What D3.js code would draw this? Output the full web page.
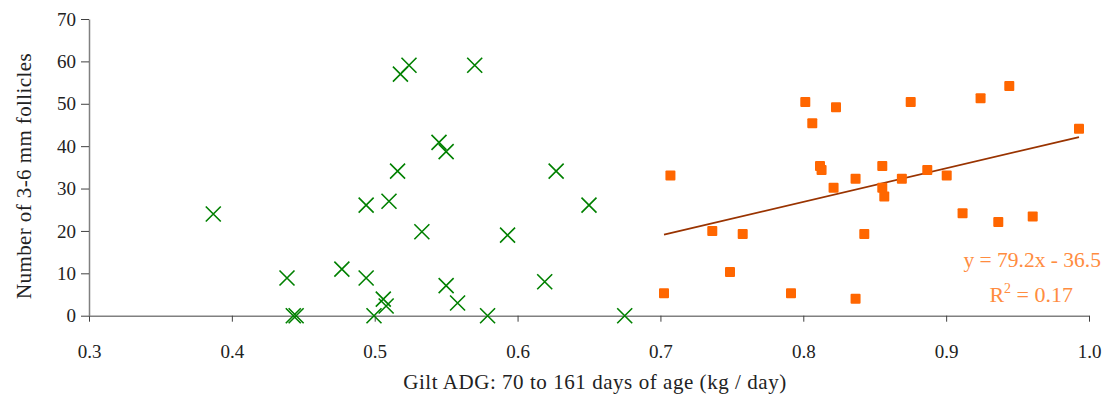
<!DOCTYPE html>
<html><head><meta charset="utf-8">
<script src="https://cdn.jsdelivr.net/npm/d3@7"></script>
<style>body{margin:0;background:#fff;} text{font-family:"Liberation Serif","DejaVu Serif",serif;}</style>
</head><body><svg id="c" width="1111" height="399"></svg>
<script>
// Group 1 (green crosses)
const greenX = [0.387,0.4386,0.443,0.445,0.477,0.494,0.494,0.4995,0.506,0.508,0.510,0.516,0.518,0.524,0.533,0.545,0.550,0.550,0.558,0.570,0.579,0.593,0.619,0.627,0.650,0.675];
const greenY = [24.0,8.9,0,0,11.0,26.1,8.9,0,3.9,2.3,27.0,34.1,57.0,59.1,19.8,40.9,38.7,7.1,3.0,59.1,0,19.0,8.0,34.1,26.1,0];
// Group 2 (orange squares)
const orangeX = [0.7025,0.707,0.7363,0.7487,0.7576,0.7914,0.8014,0.8063,0.8117,0.8128,0.8212,0.8229,0.8366,0.8366,0.8427,0.8553,0.8553,0.8567,0.869,0.8752,0.8868,0.9004,0.9115,0.9241,0.9365,0.9442,0.9606,0.993];
const orangeY = [5.3,33.1,20.0,10.3,19.3,5.3,50.4,45.4,35.3,34.4,30.2,49.2,32.3,4.0,19.3,35.3,30.2,28.1,32.3,50.4,34.4,33.1,24.2,51.3,22.1,54.2,23.4,44.1];
const trendSlope = 79.2, trendIntercept = -36.5;
const xTicks = [0.3,0.4,0.5,0.6,0.7,0.8,0.9,1.0];
const yTicks = [0,10,20,30,40,50,60,70];
const eqLabel = "y = 79.2x - 36.5";
const xTitle = "Gilt ADG: 70 to 161 days of age (kg / day)";
const yTitle = "Number of 3-6 mm follicles";
const FONT = "'Liberation Serif','DejaVu Serif',serif";

const svg = d3.select("#c");
const x = d3.scaleLinear().domain([0.3,1.0]).range([89,1089]);
const y = d3.scaleLinear().domain([0,70]).range([315.7,19]);

const xa = svg.append("g").attr("transform","translate(0,315.7)")
  .call(d3.axisBottom(x).tickValues(xTicks).tickFormat(d3.format(".1f")).tickSize(6).tickSizeOuter(0).tickPadding(23));
const ya = svg.append("g").attr("transform","translate(89,0)")
  .call(d3.axisLeft(y).tickValues(yTicks).tickFormat(d3.format("d")).tickSize(8).tickSizeOuter(0).tickPadding(5));
[xa,ya].forEach(a=>{
  a.attr("font-family",FONT).attr("font-size",19);
  a.select(".domain").attr("stroke","#808080").attr("stroke-width",1.5);
  a.selectAll(".tick line").attr("stroke","#404040").attr("stroke-width",1);
  a.selectAll(".tick text").attr("fill","#222");
});

svg.append("text").attr("x",595).attr("y",389).attr("text-anchor","middle")
  .attr("fill","#222").style("font-size","21px").style("letter-spacing","0.55px").text(xTitle);
svg.append("text").attr("transform","translate(31,176) rotate(-90)").attr("text-anchor","middle")
  .attr("fill","#222").style("font-size","21px").style("letter-spacing","0.4px").text(yTitle);

// trend line
const tx0 = d3.min(orangeX), tx1 = d3.max(orangeX);
svg.append("line").attr("x1",x(tx0)).attr("y1",y(trendSlope*tx0+trendIntercept))
  .attr("x2",x(tx1)).attr("y2",y(trendSlope*tx1+trendIntercept))
  .attr("stroke","#993300").attr("stroke-width",1.8);

// orange squares
svg.append("g").selectAll("rect").data(orangeX).join("rect")
  .attr("x",(d)=>x(d)-5).attr("y",(d,i)=>y(orangeY[i])-5).attr("width",10).attr("height",10)
  .attr("rx",1).attr("fill","#FF6600");

// green crosses
const s = 7.5;
svg.append("g").selectAll("path").data(greenX).join("path")
  .attr("d",(d,i)=>{const cx=x(d), cy=y(greenY[i]);
    return `M${cx-s},${cy-s}L${cx+s},${cy+s}M${cx-s},${cy+s}L${cx+s},${cy-s}`;})
  .attr("stroke","#008000").attr("stroke-width",1.6).attr("fill","none");

// annotation
svg.append("text").attr("x",1101).attr("y",267).attr("text-anchor","end")
  .attr("fill","#FF8C40").style("font-size","21.5px").text(eqLabel);
const r = svg.append("text").attr("x",1073).attr("y",302).attr("text-anchor","end")
  .attr("fill","#FF8C40").style("font-size","22px");
r.append("tspan").text("R");
r.append("tspan").attr("dy",-9).style("font-size","14px").text("2");
r.append("tspan").attr("dy",9).text(" = 0.17");
</script></body></html>
